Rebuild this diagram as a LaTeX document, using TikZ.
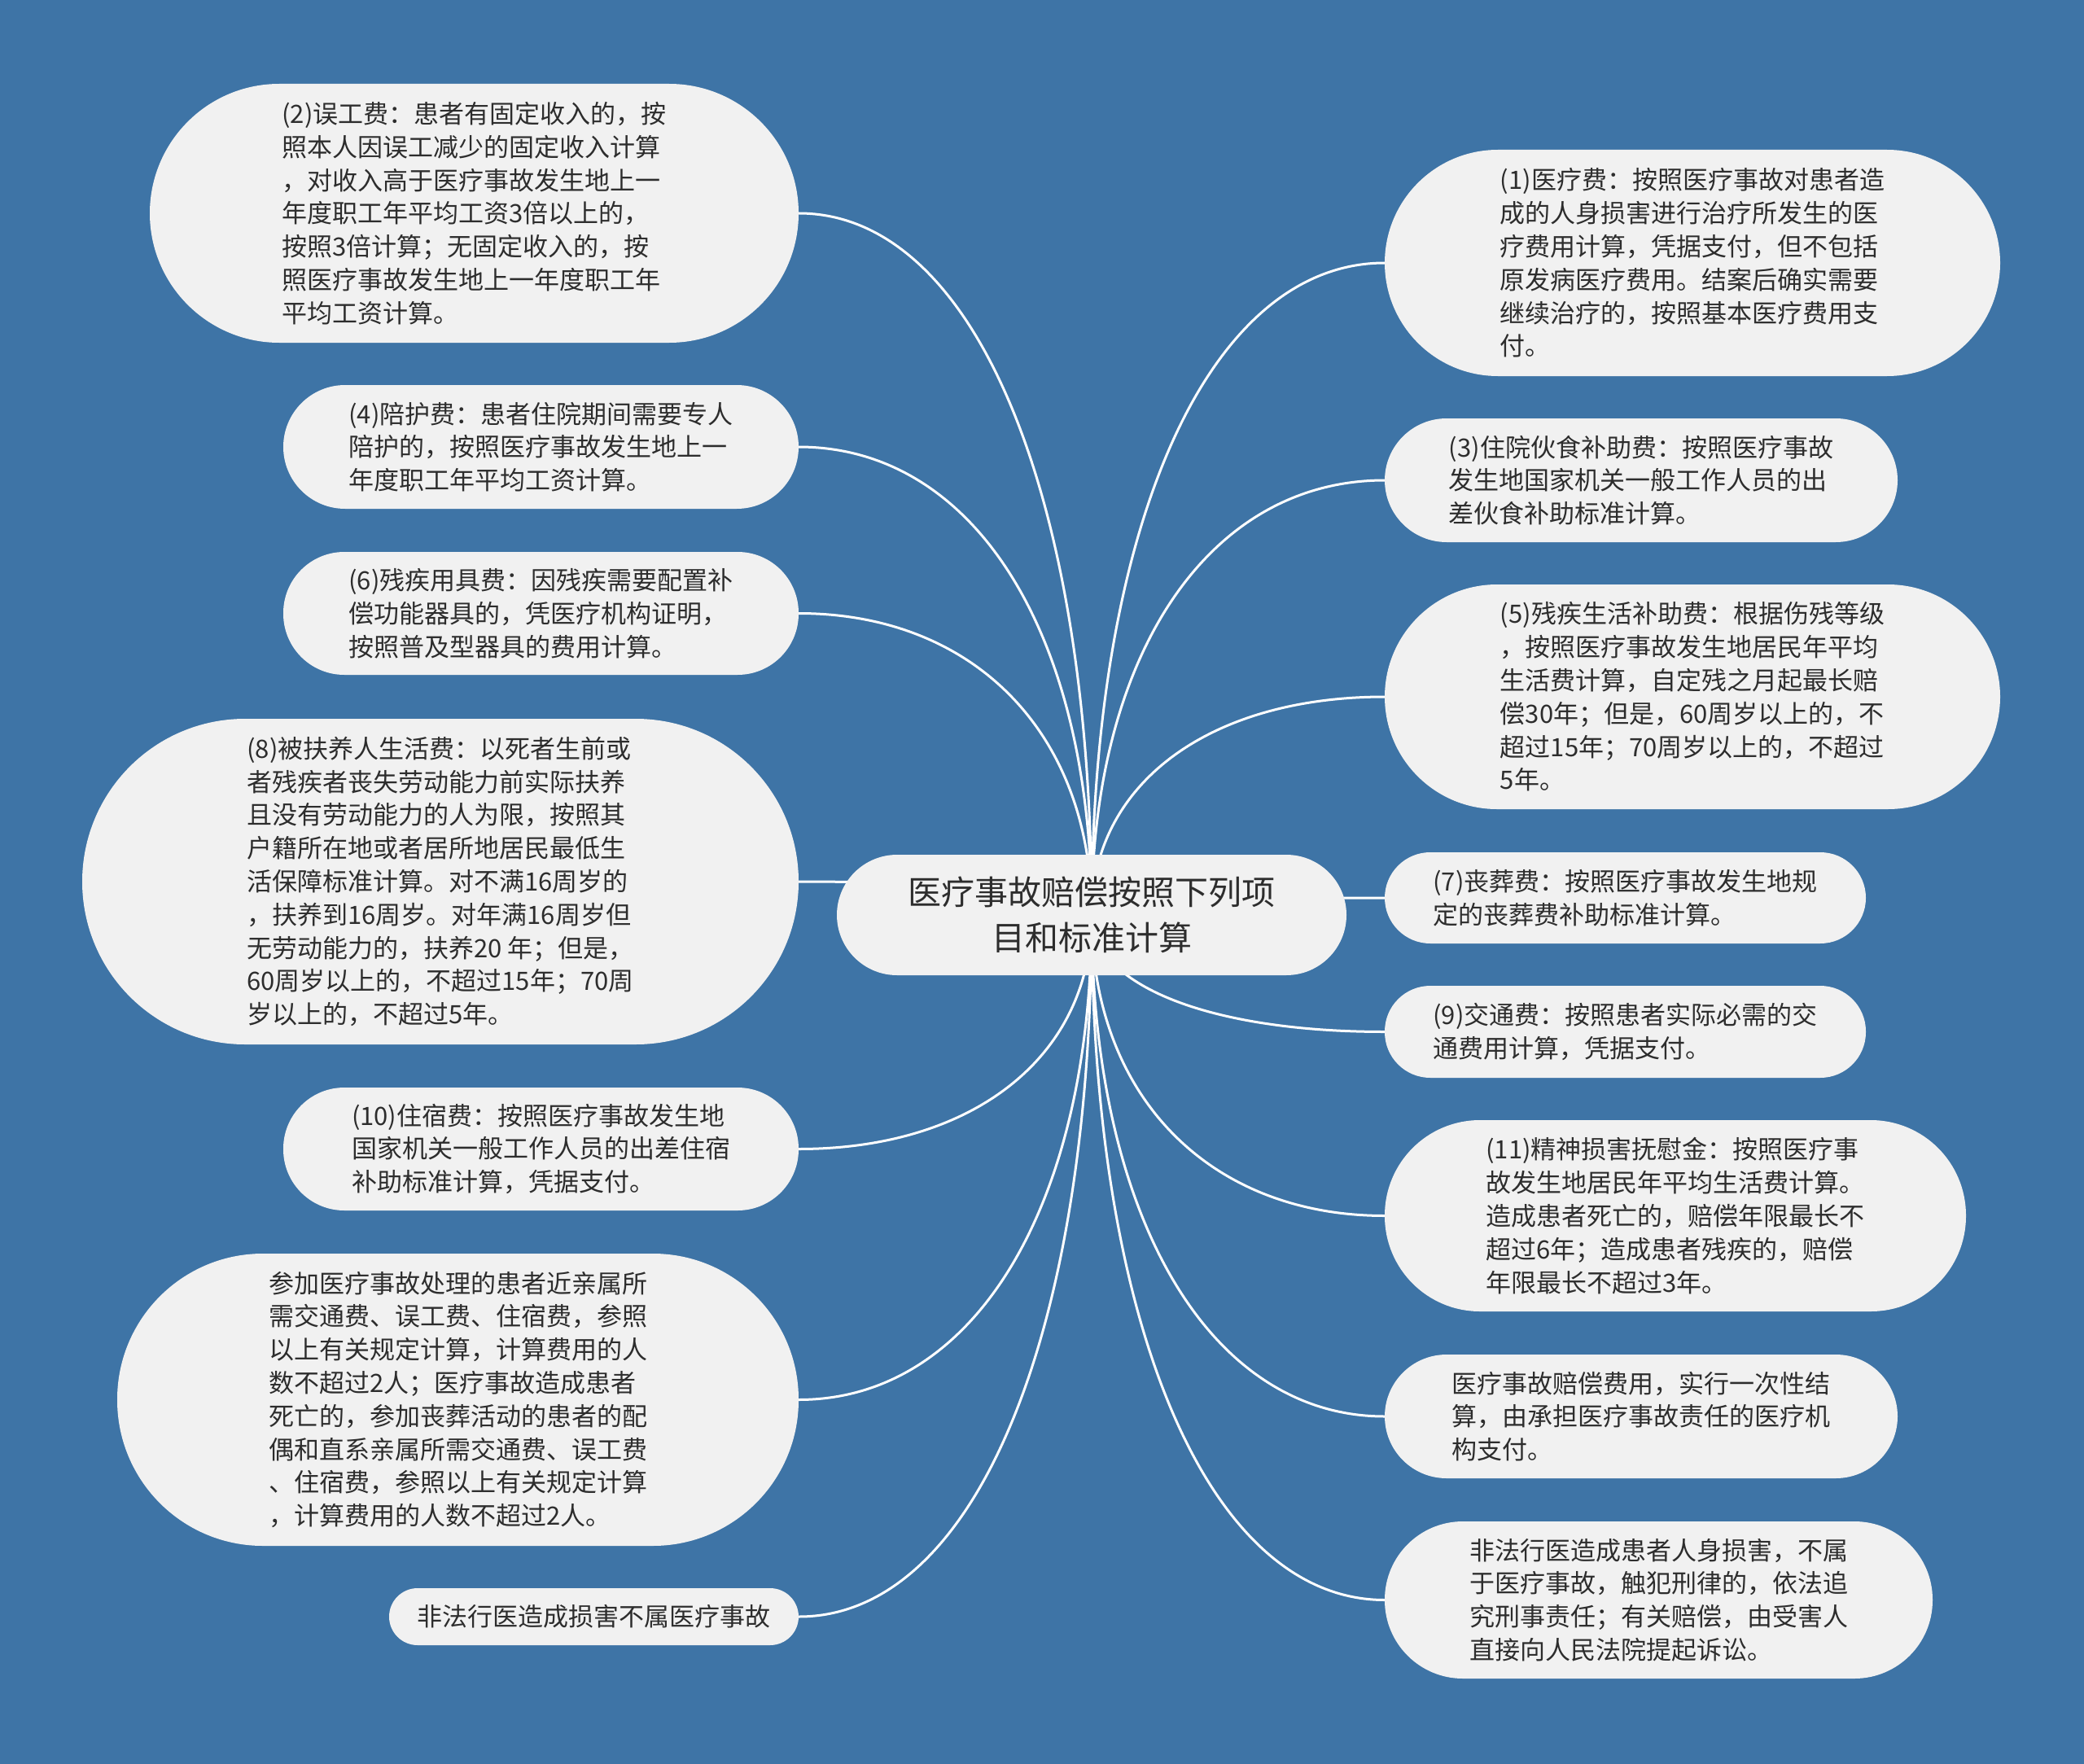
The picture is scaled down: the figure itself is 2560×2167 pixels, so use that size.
\documentclass[tikz,border=0pt]{standalone}
\usepackage{fontspec}
\newfontfamily\cjk{Noto Sans CJK SC}
\usetikzlibrary{calc}
\definecolor{bgblue}{RGB}{62,116,166}
\definecolor{boxfill}{RGB}{241,241,241}
\definecolor{txt}{RGB}{45,45,45}
\pgfdeclarelayer{back}
\pgfdeclarelayer{lines}
\pgfsetlayers{back,lines,main}
\tikzset{
  box/.style={fill=boxfill, draw=none, rectangle, inner sep=0pt, align=left, text=txt,
    font=\cjk\fontsize{31}{40.8}\selectfont},
  hub/.style={fill=boxfill, draw=none, rectangle, inner sep=0pt, align=center, text=txt,
    font=\cjk\fontsize{41}{55.5}\selectfont},
  conn/.style={draw=white, line width=3pt},
  branch/.style={to path={.. controls ($(\tikztostart)!0.6!(\tikztostart|-\tikztotarget)$) and ($(\tikztotarget)!0.6!(\tikztostart|-\tikztotarget)$) .. (\tikztotarget)}}
}
\begin{document}
\begin{tikzpicture}[x=1pt,y=-1pt]
\useasboundingbox (0,0) rectangle (2560,2167);
\begin{pgfonlayer}{back}
\fill[bgblue] (0,0) rectangle (2560,2167);
\end{pgfonlayer}

\node[hub, minimum width=626, minimum height=148, rounded corners=74] (c) at (1341,1124)
  {医疗事故赔偿按照下列项\\目和标准计算};

\node[box, minimum width=797, minimum height=318, rounded corners=159] (l1) at (582.5,262)
  {(2)误工费：患者有固定收入的，按\\照本人因误工减少的固定收入计算\\，对收入高于医疗事故发生地上一\\年度职工年平均工资3倍以上的，\\按照3倍计算；无固定收入的，按\\照医疗事故发生地上一年度职工年\\平均工资计算。};
\node[box, minimum width=633, minimum height=152, rounded corners=76] (l2) at (664.5,549)
  {(4)陪护费：患者住院期间需要专人\\陪护的，按照医疗事故发生地上一\\年度职工年平均工资计算。};
\node[box, minimum width=633, minimum height=151, rounded corners=75] (l3) at (664.5,753.5)
  {(6)残疾用具费：因残疾需要配置补\\偿功能器具的，凭医疗机构证明，\\按照普及型器具的费用计算。};
\node[box, minimum width=880, minimum height=400, rounded corners=200] (l4) at (541,1083)
  {(8)被扶养人生活费：以死者生前或\\者残疾者丧失劳动能力前实际扶养\\且没有劳动能力的人为限，按照其\\户籍所在地或者居所地居民最低生\\活保障标准计算。对不满16周岁的\\，扶养到16周岁。对年满16周岁但\\无劳动能力的，扶养20 年；但是，\\60周岁以上的，不超过15年；70周\\岁以上的，不超过5年。};
\node[box, minimum width=633, minimum height=151, rounded corners=75] (l5) at (664.5,1411.5)
  {(10)住宿费：按照医疗事故发生地\\国家机关一般工作人员的出差住宿\\补助标准计算，凭据支付。};
\node[box, minimum width=837, minimum height=359, rounded corners=179] (l6) at (562.5,1719.5)
  {参加医疗事故处理的患者近亲属所\\需交通费、误工费、住宿费，参照\\以上有关规定计算，计算费用的人\\数不超过2人；医疗事故造成患者\\死亡的，参加丧葬活动的患者的配\\偶和直系亲属所需交通费、误工费\\、住宿费，参照以上有关规定计算\\，计算费用的人数不超过2人。};
\node[box, minimum width=503, minimum height=70, rounded corners=35] (l7) at (729.5,1986)
  {非法行医造成损害不属医疗事故};

\node[box, minimum width=756, minimum height=278, rounded corners=139] (r1) at (2079,323)
  {(1)医疗费：按照医疗事故对患者造\\成的人身损害进行治疗所发生的医\\疗费用计算，凭据支付，但不包括\\原发病医疗费用。结案后确实需要\\继续治疗的，按照基本医疗费用支\\付。};
\node[box, minimum width=630, minimum height=152, rounded corners=76] (r2) at (2016,590)
  {(3)住院伙食补助费：按照医疗事故\\发生地国家机关一般工作人员的出\\差伙食补助标准计算。};
\node[box, minimum width=756, minimum height=276, rounded corners=138] (r3) at (2079,856)
  {(5)残疾生活补助费：根据伤残等级\\，按照医疗事故发生地居民年平均\\生活费计算，自定残之月起最长赔\\偿30年；但是，60周岁以上的，不\\超过15年；70周岁以上的，不超过\\5年。};
\node[box, minimum width=591, minimum height=112, rounded corners=56] (r4) at (1996.5,1103)
  {(7)丧葬费：按照医疗事故发生地规\\定的丧葬费补助标准计算。};
\node[box, minimum width=591, minimum height=113, rounded corners=56] (r5) at (1996.5,1267.5)
  {(9)交通费：按照患者实际必需的交\\通费用计算，凭据支付。};
\node[box, minimum width=714, minimum height=235, rounded corners=117] (r6) at (2058,1493.5)
  {(11)精神损害抚慰金：按照医疗事\\故发生地居民年平均生活费计算。\\造成患者死亡的，赔偿年限最长不\\超过6年；造成患者残疾的，赔偿\\年限最长不超过3年。};
\node[box, minimum width=630, minimum height=152, rounded corners=76] (r7) at (2016,1740)
  {医疗事故赔偿费用，实行一次性结\\算，由承担医疗事故责任的医疗机\\构支付。};
\node[box, minimum width=673, minimum height=193, rounded corners=96] (r8) at (2037.5,1965.5)
  {非法行医造成患者人身损害，不属\\于医疗事故，触犯刑律的，依法追\\究刑事责任；有关赔偿，由受害人\\直接向人民法院提起诉讼。};

\begin{pgfonlayer}{lines}
\foreach \n in {l1,l2,l3,l4,l5,l6,l7}
  \draw[conn] (c.center) to[branch] (\n.east);
\foreach \n in {r1,r2,r3,r4,r5,r6,r7,r8}
  \draw[conn] (c.center) to[branch] (\n.west);
\end{pgfonlayer}
\end{tikzpicture}
\end{document}
